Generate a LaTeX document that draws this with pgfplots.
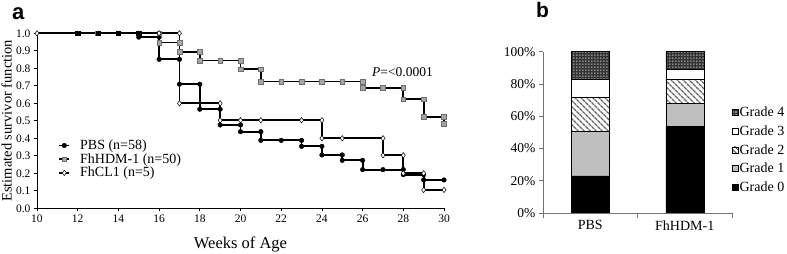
\documentclass[border=0pt]{standalone}
\usepackage{fontspec}
\setmainfont{Liberation Serif}
\newfontfamily\sanslab{Liberation Sans}
\usepackage{pgfplots}
\pgfplotsset{compat=1.18}
\usetikzlibrary{patterns,patterns.meta}
\pgfdeclarepatternformonly{whitesq}{\pgfpointorigin}{\pgfpoint{3pt}{3pt}}{\pgfpoint{3pt}{3pt}}{%
 \pgfpathrectangle{\pgfpoint{0.5pt}{0.5pt}}{\pgfpoint{1.3pt}{1.3pt}}%
 \pgfusepath{fill}}
\definecolor{hdmfill}{HTML}{A6A6A6}
\definecolor{hdmdraw}{HTML}{6E6E6E}
\definecolor{grone}{HTML}{BFBFBF}
\begin{document}
\begin{tikzpicture}
\useasboundingbox (0pt,0pt) rectangle (787pt,254pt);
\node[anchor=base west,font=\sanslab\bfseries\fontsize{22}{24}\selectfont,inner sep=0pt] at (12pt,234pt) {a};
\node[anchor=base west,font=\sanslab\bfseries\fontsize{21}{24}\selectfont,inner sep=0pt] at (536pt,236pt) {b};
\begin{axis}[
  at={(37pt,45.7pt)}, anchor=south west,
  scale only axis, width=407pt, height=175pt,
  xmin=10, xmax=30, ymin=0, ymax=1,
  axis x line=bottom, axis y line=left,
  axis line style={-, black, line width=0.8pt},
  tick align=outside, major tick length=3pt,
  tick style={black, line width=0.7pt},
  xtick={10,12,14,16,18,20,22,24,26,28,30},
  ytick={0,0.1,0.2,0.3,0.4,0.5,0.6,0.7,0.8,0.9,1.0},
  /pgf/number format/assume math mode=true,
  yticklabel style={/pgf/number format/fixed,/pgf/number format/fixed zerofill,/pgf/number format/precision=1},
  ticklabel style={font=\fontsize{11.5}{12}\selectfont},
  xlabel={Weeks of Age},
  xlabel style={at={(axis description cs:0.5,-0.2269)}, anchor=base, font=\fontsize{16.5}{18}\selectfont},
  ylabel={Estimated survivor function},
  ylabel style={at={(axis description cs:-0.0622,0.5)}, anchor=base, font=\fontsize{14.5}{16}\selectfont},
  clip=false,
  legend cell align=left,
  legend style={at={(axis description cs:0.052,0.398)}, anchor=north west, draw=none, fill=none,
    font=\fontsize{14}{16}\selectfont, inner sep=0pt, row sep=0.5pt, nodes={inner sep=1pt},
    /tikz/every odd column/.append style={column sep=9pt}},
  legend image code/.code={\draw[mark repeat=2,mark phase=2,#1] plot coordinates {(0pt,0pt) (5pt,0pt) (10pt,0pt)};},
]
\addplot[black, line width=1.8pt, mark=*, mark size=2.3pt, mark options={solid, fill=black, line width=0.4pt}] coordinates {
(12,1) (13,1) (14,1) (15,1) (15,0.978) (16,0.978) (16,0.851) (17,0.851) (17,0.709) (18,0.709)
(18,0.566) (19,0.566) (19,0.476) (20,0.476) (20,0.438) (21,0.438) (21,0.388) (22,0.388) (23,0.388)
(23,0.354) (24,0.354) (24,0.305) (25,0.305) (25,0.274) (26,0.274) (26,0.221) (27,0.221) (28,0.221)
(28,0.192) (29,0.192) (29,0.162) (30,0.162)};
\addlegendentry{PBS (n=58)}
\addplot[black, line width=1.8pt, mark=square*, mark size=2.3pt, mark options={solid, fill=hdmfill, draw=hdmdraw, line width=0.5pt}] coordinates {
(12,1) (13,1) (14,1) (15,1) (16,1) (16,0.947) (17,0.947) (17,0.895) (18,0.895) (18,0.844) (19,0.844)
(20,0.844) (20,0.795) (21,0.795) (21,0.724) (22,0.724) (23,0.724) (24,0.724) (25,0.724) (26,0.724)
(26,0.688) (27,0.688) (28,0.688) (28,0.623) (29,0.623) (29,0.522) (30,0.522) (30,0.484)};
\addlegendentry{FhHDM-1 (n=50)}
\addplot[only marks, mark=square*, mark size=2.3pt, black, forget plot] coordinates {(12,1) (13,1) (14,1) (15,1)};
\addplot[black, line width=1.8pt, mark=diamond*, mark size=2.7pt, mark options={solid, fill=white, draw=black, line width=0.5pt}] coordinates {
(10,1) (16,1) (17,1) (17,0.6) (19,0.6) (19,0.503) (20,0.503) (21,0.503) (23,0.503) (24,0.503)
(24,0.4) (25,0.4) (27,0.4) (27,0.303) (28,0.303) (28,0.2) (29,0.2) (29,0.105) (30,0.105)};
\addlegendentry{FhCL1 (n=5)}
\node[anchor=base west, font=\fontsize{13.5}{15}\selectfont, inner sep=0pt] at (axis cs:26.46,0.752) {\textit{P}=<0.0001};
\end{axis}
\begin{axis}[
  at={(543pt,41pt)}, anchor=south west,
  scale only axis, width=189pt, height=161.3pt,
  xmin=-0.5, xmax=1.5, ymin=0, ymax=100,
  ybar stacked, bar width=38pt,
  axis x line=bottom, axis y line=left,
  axis line style={-, black!55, line width=0.6pt},
  tick align=outside, major tick length=4pt, minor tick length=5pt,
  tick style={black!55, line width=0.6pt},
  xtick={0,1}, xticklabels={PBS,FhHDM-1},
  major x tick style={draw=none},
  minor xtick={-0.5,0.5,1.5},
  ytick={0,20,40,60,80,100},
  /pgf/number format/assume math mode=true,
  yticklabel={\pgfmathprintnumber{\tick}\%},
  yticklabel style={font=\fontsize{13.5}{14}\selectfont},
  xticklabel style={font=\fontsize{14}{15}\selectfont},
  reverse legend,
  legend cell align=left,
  legend style={at={(axis description cs:1.0,0.665)}, anchor=north west, draw=none, fill=none,
    font=\fontsize{14}{15}\selectfont, inner sep=0pt, row sep=5.5pt, nodes={inner sep=1pt},
    /tikz/every odd column/.append style={column sep=0pt}},
  legend image code/.code={\draw[#1, draw=black, line width=0.4pt] (0pt,-3pt) rectangle (6pt,3pt);},
]
\addplot[fill=black, draw=black, line width=0.5pt] coordinates {(0,23) (1,53.5)};
\addlegendentry{Grade 0}
\addplot[fill=grone, draw=black, line width=0.5pt] coordinates {(0,27.7) (1,14.5)};
\addlegendentry{Grade 1}
\addplot[pattern={Lines[angle=-45,distance=4pt,line width=1.5pt]}, pattern color=black!60, draw=black, line width=0.5pt] coordinates {(0,21.3) (1,15)};
\addlegendentry{Grade 2}
\addplot[fill=white, draw=black, line width=0.5pt] coordinates {(0,11.2) (1,6)};
\addlegendentry{Grade 3}
\addplot[fill=black!80, postaction={pattern=whitesq, pattern color=white}, draw=black, line width=0.5pt] coordinates {(0,16.8) (1,11)};
\addlegendentry{Grade 4}
\end{axis}
\end{tikzpicture}
\end{document}
